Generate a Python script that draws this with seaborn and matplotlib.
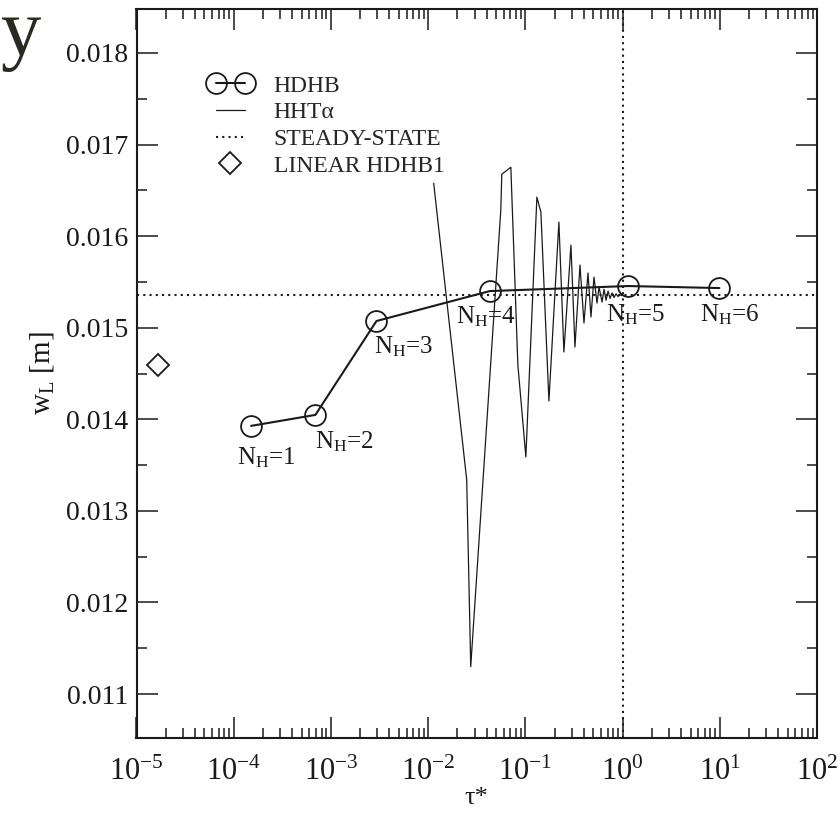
import numpy as np
import pandas as pd
import matplotlib
matplotlib.use("Agg")
import matplotlib.pyplot as plt
from matplotlib.lines import Line2D
from matplotlib.legend_handler import HandlerLine2D
from matplotlib.ticker import (LogLocator, LogFormatterMathtext, MultipleLocator,
                               FormatStrFormatter, NullFormatter)
import seaborn as sns

# HDHB solutions for increasing number of harmonics
nh_values = [1, 2, 3, 4, 5, 6]
hdhb_tau = [1.51e-4, 6.92e-4, 2.94e-3, 4.31e-2, 1.14, 9.9]
hdhb_w = [0.013928, 0.014048, 0.015073, 0.015400, 0.015455, 0.015433]

# HHT-alpha time integration history
hht_tau = [0.01140, 0.02493, 0.02742, 0.05589, 0.05724, 0.07090, 0.08375, 0.1012,
           0.1314, 0.1445, 0.1747, 0.2213, 0.2492, 0.2944, 0.3237, 0.3645, 0.4009,
           0.4408, 0.4730, 0.5082, 0.5458, 0.5727, 0.6150, 0.6448, 0.6761, 0.7090,
           0.7433, 0.7795, 0.8172, 0.8569, 0.8984, 0.9420, 0.9882]
hht_w = [0.016578, 0.013339, 0.011300, 0.016284, 0.016676, 0.016752, 0.014593, 0.013590,
         0.016425, 0.016262, 0.014200, 0.016153, 0.014735, 0.015902, 0.014790, 0.015684,
         0.015051, 0.015597, 0.015117, 0.015553, 0.015269, 0.015444, 0.015280, 0.015420,
         0.015300, 0.015400, 0.015320, 0.015380, 0.015330, 0.015370, 0.015340, 0.015360,
         0.015350]

# steady-state reference
steady_w = 0.015353
steady_tau = 1.0

# linear HDHB with one harmonic
linear_tau = [1.67e-5]
linear_w = [0.014593]

# label offsets (pixels) for the harmonic-count annotations
label_offsets = [(15, -32), (29, -27), (27, -26), (-4, -26), (7, -29), (10, -27)]

sns.set_theme(style="ticks")
plt.rcParams["font.family"] = ["Liberation Serif", "DejaVu Serif"]
plt.rcParams["mathtext.fontset"] = "custom"
plt.rcParams["mathtext.rm"] = "Liberation Serif"
plt.rcParams["mathtext.it"] = "Liberation Serif:italic"
plt.rcParams["mathtext.bf"] = "Liberation Serif:bold"
plt.rcParams["axes.unicode_minus"] = True

fig = plt.figure(figsize=(8.4, 8.13), dpi=100)
ax = fig.add_axes([136.5 / 840, 1 - 738 / 813, (817 - 136.5) / 840, (738 - 9) / 813])
ax.set_facecolor("white")

hdhb = pd.DataFrame({"tau": hdhb_tau, "w": hdhb_w, "nh": nh_values})
hht = pd.DataFrame({"tau": hht_tau, "w": hht_w})
lin = pd.DataFrame({"tau": linear_tau, "w": linear_w})

# steady-state lines
ax.axhline(steady_w, color="k", lw=1.5, linestyle=(0, (1, 2)), zorder=1)
ax.axvline(steady_tau, color="k", lw=1.5, linestyle=(0, (1, 2)), zorder=1)

sns.lineplot(data=hht, x="tau", y="w", ax=ax, sort=False, estimator=None,
             color="k", lw=0.9, zorder=2)
sns.lineplot(data=hdhb, x="tau", y="w", ax=ax, sort=False, estimator=None,
             color="k", lw=1.5, marker="o", markersize=15, markerfacecolor="none",
             markeredgecolor="k", markeredgewidth=1.3, zorder=3)
sns.lineplot(data=lin, x="tau", y="w", ax=ax, estimator=None, color="k",
             marker="D", markersize=11.5, markerfacecolor="none",
             markeredgecolor="k", markeredgewidth=1.3, linestyle="none", zorder=3)

for t, w, n, off in zip(hdhb_tau, hdhb_w, nh_values, label_offsets):
    ax.annotate(r"N$_\mathrm{H}$=%d" % n, xy=(t, w), xytext=off,
                textcoords="offset pixels", ha="center", va="center",
                fontsize=18, color="k")

ax.set_xscale("log")
ax.set_xlim(1e-5, 1e2)
ax.set_ylim(0.01052, 0.01848)

ax.xaxis.set_major_locator(LogLocator(base=10, numticks=20))
ax.xaxis.set_minor_locator(LogLocator(base=10, subs=np.arange(2, 10), numticks=20))
ax.xaxis.set_major_formatter(LogFormatterMathtext())
ax.xaxis.set_minor_formatter(NullFormatter())
ax.yaxis.set_major_locator(MultipleLocator(0.001))
ax.yaxis.set_minor_locator(MultipleLocator(0.0005))
ax.yaxis.set_major_formatter(FormatStrFormatter("%.3f"))

ax.tick_params(which="both", direction="in", top=True, right=True, width=1.1,
               color="k", labelcolor="k")
ax.tick_params(which="major", length=15)
ax.tick_params(which="minor", length=7.5)
ax.tick_params(axis="x", which="major", pad=14, labelsize=22)
ax.tick_params(axis="y", which="major", pad=6, labelsize=20)
for s in ax.spines.values():
    s.set_linewidth(1.5)
    s.set_color("k")

ax.set_xlabel("τ*", fontsize=19, color="k", labelpad=0)
ax.set_ylabel(r"w$_\mathrm{L}$ [m]", fontsize=21, color="k", labelpad=7)

h_hdhb = Line2D([], [], color="k", lw=1.5, marker="o", ms=15, mfc="none",
                mec="k", mew=1.3)
h_hht = Line2D([], [], color="k", lw=0.9)
h_ss = Line2D([], [], color="k", lw=1.5, linestyle=(0, (1, 2)))
h_lin = Line2D([], [], color="k", marker="D", ms=11.5, mfc="none", mec="k",
               mew=1.3, linestyle="none")
ax.legend([h_hdhb, h_hht, h_ss, h_lin],
          ["HDHB", "HHTα", "STEADY-STATE", "LINEAR HDHB1"],
          loc="upper left", bbox_to_anchor=(0.1067, 0.9095), numpoints=2,
          handler_map={h_lin: HandlerLine2D(numpoints=1)},
          frameon=False, fontsize=17, handlelength=1.8, handletextpad=0.93,
          labelspacing=0.22, borderpad=0, borderaxespad=0)

# caption letter at the top-left corner
fig.text(1 / 840, 1 - 55 / 813, "y", fontsize=58, color="#2b2a20",
         ha="left", va="baseline")

fig.savefig("out.png", dpi=100, facecolor="white")
